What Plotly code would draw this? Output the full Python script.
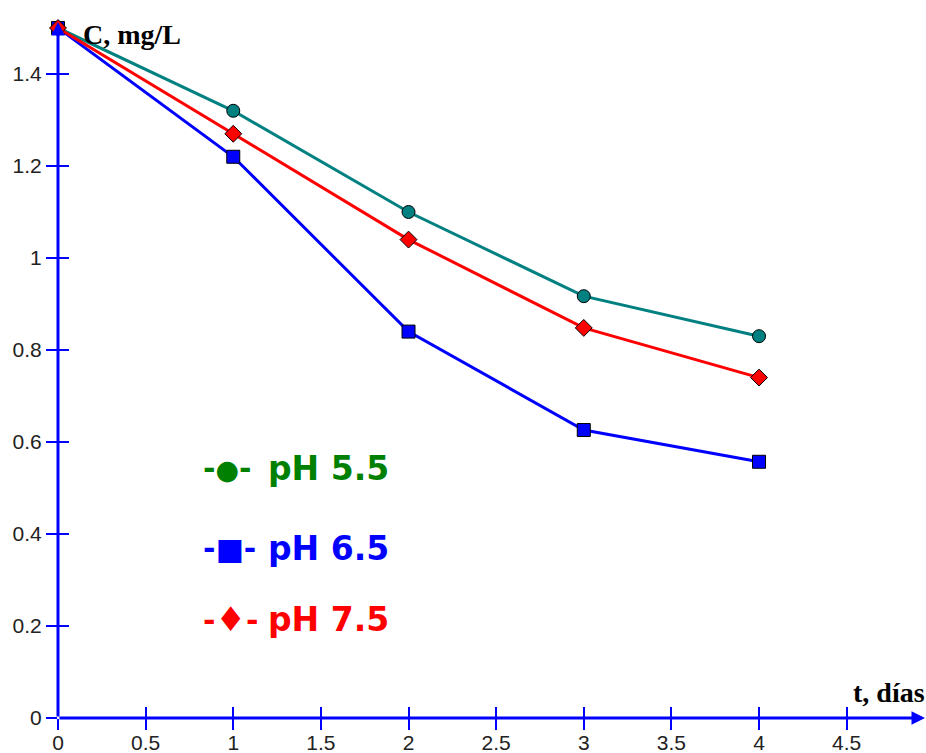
import plotly.graph_objects as go

t_days = [0, 1, 2, 3, 4]
ph55 = [1.50, 1.32, 1.10, 0.917, 0.83]
ph65 = [1.50, 1.22, 0.84, 0.626, 0.557]
ph75 = [1.50, 1.27, 1.04, 0.848, 0.74]

x_ticks = [0, 0.5, 1, 1.5, 2, 2.5, 3, 3.5, 4, 4.5]
x_ticklabels = ["0", "0.5", "1", "1.5", "2", "2.5", "3", "3.5", "4", "4.5"]
y_ticks = [0, 0.2, 0.4, 0.6, 0.8, 1.0, 1.2, 1.4]
y_ticklabels = ["0", "0.2", "0.4", "0.6", "0.8", "1", "1.2", "1.4"]

series = [
    ("pH 5.5", ph55, "#008080", "circle", 13, "#008000", "●", 27),
    ("pH 6.5", ph65, "#0000ff", "square", 13, "#0000ff", "■", 30),
    ("pH 7.5", ph75, "#ff0000", "diamond", 13, "#ff0000", "♦", 34),
]

XR = [0, 4.947]
YR = [0, 1.513]

fig = go.Figure()
for name, vals, col, sym, sz, *_ in series:
    fig.add_trace(go.Scatter(
        x=t_days, y=vals, mode="lines+markers", name=name,
        line=dict(color=col, width=3),
        marker=dict(symbol=sym, size=sz, color=col, line=dict(color="black", width=1)),
        cliponaxis=False, showlegend=False,
    ))
# empty trace to instantiate the overlay axes used for inner tick halves
fig.add_trace(go.Scatter(x=[], y=[], xaxis="x2", yaxis="y2", showlegend=False))

tickfont = dict(family="Liberation Sans, Arial, sans-serif", size=21, color="#222")
fig.update_layout(
    width=926, height=753,
    margin=dict(l=58, r=1, t=22, b=35, autoexpand=False),
    paper_bgcolor="white", plot_bgcolor="white",
    xaxis=dict(range=XR, tickvals=x_ticks, ticktext=x_ticklabels, ticks="outside",
               ticklen=11, tickwidth=1.5, tickcolor="#0000ff", showgrid=False,
               zeroline=False, showline=False, tickfont=tickfont, ticklabelstandoff=-5,
               automargin=False),
    yaxis=dict(range=YR, tickvals=y_ticks, ticktext=y_ticklabels, ticks="outside",
               ticklen=11, tickwidth=1.5, tickcolor="#0000ff", showgrid=False,
               zeroline=False, showline=False, tickfont=tickfont, ticklabelstandoff=0,
               automargin=False),
    xaxis2=dict(range=XR, overlaying="x", anchor="y2", side="bottom", tickvals=x_ticks,
                ticks="inside", ticklen=11, tickwidth=1.5, tickcolor="#0000ff",
                showticklabels=False, showgrid=False, zeroline=False, showline=False,
                automargin=False),
    yaxis2=dict(range=YR, overlaying="y", anchor="x2", side="left", tickvals=y_ticks,
                ticks="inside", ticklen=11, tickwidth=1.5, tickcolor="#0000ff",
                showticklabels=False, showgrid=False, zeroline=False, showline=False,
                automargin=False),
)

# axis lines with arrowheads
fig.add_annotation(x=1, y=0, xref="x domain", yref="y domain", ax=0, ay=0,
                   axref="x domain", ayref="y domain", showarrow=True, arrowhead=2,
                   arrowsize=0.9, arrowwidth=3, arrowcolor="#0000ff", text="", standoff=0)
fig.add_annotation(x=0, y=1, xref="x domain", yref="y domain", ax=0, ay=0,
                   axref="x domain", ayref="y domain", showarrow=True, arrowhead=2,
                   arrowsize=0.9, arrowwidth=3, arrowcolor="#0000ff", text="", standoff=0)

titlefont = dict(family="Liberation Serif, Times New Roman, serif", size=28, color="black")
fig.add_annotation(x=81, y=35, xref="paper", yref="paper", text="<b>C, mg/L</b>",
                   showarrow=False, xanchor="left", yanchor="middle", font=titlefont)
fig.add_annotation(x=927, y=692, xref="paper", yref="paper", text="<b>t, días</b>",
                   showarrow=False, xanchor="right", yanchor="middle", font=titlefont)

# convert pixel positions of the text annotations to paper coords
for a in fig.layout.annotations[2:]:
    a.x = (a.x - 58) / 867
    a.y = (718 - a.y) / 696

legfont_family = "DejaVu Sans, Verdana, sans-serif"
leg_y = [468, 548, 619]
for (name, _, _, _, _, tcol, glyph, gsize), py in zip(series, leg_y):
    fig.add_annotation(
        x=(201 - 58) / 867, y=(718 - py) / 696, xref="paper", yref="paper",
        text=f"<b>-<span style='font-size:{gsize}px'>{glyph}</span>-</b>",
        showarrow=False, xanchor="left", yanchor="middle",
        font=dict(family=legfont_family, size=30, color=tcol),
    )
    fig.add_annotation(
        x=(266 - 58) / 867, y=(718 - py) / 696, xref="paper", yref="paper",
        text=f"<b>{name}</b>", showarrow=False, xanchor="left", yanchor="middle",
        font=dict(family=legfont_family, size=33, color=tcol),
    )

fig.write_html(
    "out.html",
    config={"displayModeBar": False},
    post_script="document.body.style.margin='0';document.body.style.overflow='hidden';",
)
